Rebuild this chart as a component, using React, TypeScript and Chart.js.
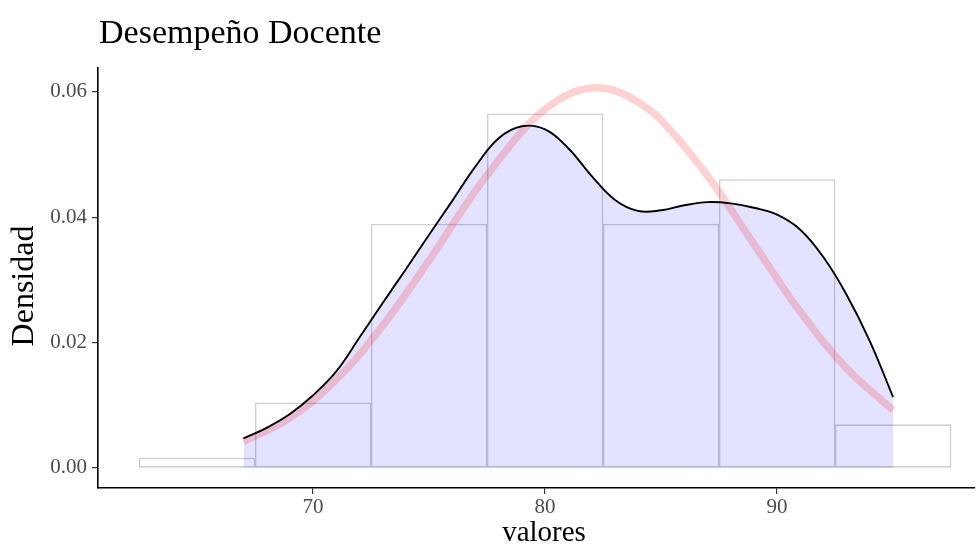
import React, { useEffect, useRef } from "react";
import { Chart, registerables } from "chart.js";

Chart.register(...registerables);

// Histogram (density scale), bins of width 5
const binCenters = [65, 70, 75, 80, 85, 90, 95];
const binDensity = [0.0016, 0.0104, 0.0389, 0.0565, 0.0389, 0.046, 0.0069];

// Kernel density estimate
const kdeX = [67, 68, 69, 70, 71, 72, 73, 74, 75, 76, 77, 78, 79, 80, 81, 82, 83, 84, 85, 86, 87, 88, 89, 90, 91, 92, 93, 94, 95];
const kdeY = [0.0047, 0.0064, 0.0086, 0.0116, 0.0154, 0.0208, 0.0263, 0.0317, 0.0372, 0.0426, 0.0481, 0.0526, 0.0545, 0.054, 0.051, 0.0466, 0.0428, 0.041, 0.0411, 0.0419, 0.0424, 0.0422, 0.0415, 0.0404, 0.038, 0.0336, 0.0276, 0.0202, 0.0113];

// Normal curve
const normX = [67, 69, 71, 73, 75, 77, 79, 80, 81, 82, 83, 84, 85, 87, 89, 91, 93, 95];
const normY = [0.0042, 0.008, 0.0141, 0.0227, 0.0331, 0.0442, 0.0537, 0.0572, 0.0596, 0.0606, 0.0602, 0.0584, 0.0555, 0.0466, 0.0357, 0.0249, 0.0159, 0.0092];

const xTicks = [70, 80, 90];
const yTicks = [0, 0.02, 0.04, 0.06];

const titleText = "Desempeño Docente";
const xTitle = "valores";
const yTitle = "Densidad";

const SERIF = "'Liberation Serif', 'Times New Roman', serif";

const textPlugin = {
  id: "ggText",
  afterDraw(chart: any) {
    const ctx = chart.ctx;
    ctx.save();
    ctx.fillStyle = "#000000";
    ctx.font = `34px ${SERIF}`;
    ctx.textAlign = "left";
    ctx.textBaseline = "alphabetic";
    ctx.fillText(titleText, 99, 43);

    ctx.font = `29px ${SERIF}`;
    ctx.textAlign = "center";
    ctx.fillText(xTitle, 544, 541);

    ctx.translate(33, 286);
    ctx.rotate(-Math.PI / 2);
    ctx.font = `32px ${SERIF}`;
    ctx.textAlign = "center";
    ctx.textBaseline = "alphabetic";
    ctx.fillText(yTitle, 0, 0);
    ctx.restore();
  },
};

export default function App() {
  const ref = useRef<HTMLCanvasElement | null>(null);

  useEffect(() => {
    if (!ref.current) return;
    const hist = binCenters.map((x, i) => ({ x, y: binDensity[i] }));
    const kde = kdeX.map((x, i) => ({ x, y: kdeY[i] }));
    const norm = normX.map((x, i) => ({ x, y: normY[i] }));

    const chart = new Chart(ref.current, {
      type: "bar",
      data: {
        datasets: [
          {
            type: "bar",
            data: hist,
            backgroundColor: "#ffffff",
            borderColor: "#d0d0d0",
            borderWidth: 1.6,
            borderSkipped: false,
            barPercentage: 1,
            categoryPercentage: 1,
            order: 4,
          } as any,
          {
            type: "line",
            data: kde,
            fill: "origin",
            backgroundColor: "rgba(0,0,255,0.11)",
            borderWidth: 0,
            borderColor: "rgba(0,0,0,0)",
            pointRadius: 0,
            tension: 0.4,
            order: 3,
          } as any,
          {
            type: "line",
            data: norm,
            fill: false,
            borderColor: "rgba(255,0,0,0.18)",
            borderWidth: 7.5,
            pointRadius: 0,
            tension: 0.4,
            order: 2,
          } as any,
          {
            type: "line",
            data: kde,
            fill: false,
            borderColor: "#000000",
            borderWidth: 1.9,
            pointRadius: 0,
            tension: 0.4,
            order: 1,
          } as any,
        ],
      },
      plugins: [textPlugin],
      options: {
        responsive: false,
        animation: false,
        layout: { padding: { top: 68, right: 2, left: 0, bottom: 0 } },
        plugins: {
          legend: { display: false },
          tooltip: { enabled: false },
          title: { display: false },
        },
        scales: {
          x: {
            type: "linear",
            min: 60.73,
            max: 98.53,
            offset: false,
            grid: {
              offset: false,
              drawOnChartArea: false,
              drawTicks: true,
              tickLength: 6,
              color: "#333333",
              lineWidth: 1.2,
            },
            border: { display: true, color: "#000000", width: 1.6 },
            ticks: {
              color: "#4d4d4d",
              font: { family: SERIF, size: 21 },
              padding: 1,
              maxRotation: 0,
              autoSkip: false,
              callback: (v: any) => String(v),
            },
            afterBuildTicks: (scale: any) => {
              scale.ticks = xTicks.map((value) => ({ value }));
            },
            afterFit: (scale: any) => {
              scale.height = 57;
            },
          },
          y: {
            type: "linear",
            min: -0.0032,
            max: 0.0638,
            grid: {
              drawOnChartArea: false,
              drawTicks: true,
              tickLength: 6,
              color: "#333333",
              lineWidth: 1.2,
            },
            border: { display: true, color: "#000000", width: 1.6 },
            ticks: {
              color: "#4d4d4d",
              font: { family: SERIF, size: 21 },
              padding: 5,
              callback: (v: any) => Number(v).toFixed(2),
            },
            afterBuildTicks: (scale: any) => {
              scale.ticks = yTicks.map((value) => ({ value }));
            },
            afterFit: (scale: any) => {
              scale.width = 98;
            },
          },
        },
      } as any,
    });
    return () => chart.destroy();
  }, []);

  return (
    <div style={{ position: "fixed", left: 0, top: 0, width: 977, height: 545, background: "#ffffff" }}>
      <canvas ref={ref} width={977} height={545} style={{ display: "block", width: 977, height: 545 }} />
    </div>
  );
}
